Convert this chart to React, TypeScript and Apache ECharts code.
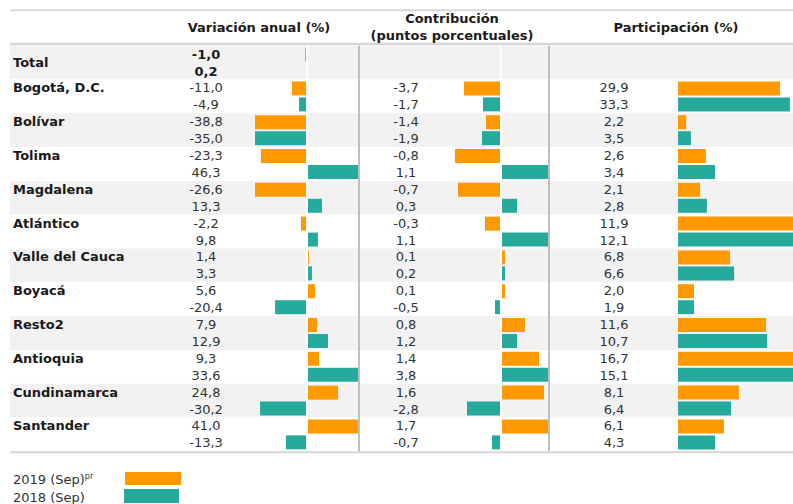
import React, { useEffect, useRef } from "react";
import * as echarts from "echarts";

// ---- Data ----
const regions = [
  "Total",
  "Bogotá, D.C.",
  "Bolívar",
  "Tolima",
  "Magdalena",
  "Atlántico",
  "Valle del Cauca",
  "Boyacá",
  "Resto2",
  "Antioquia",
  "Cundinamarca",
  "Santander",
];

// Printed values
const var2019 = [-1.0, -11.0, -38.8, -23.3, -26.6, -2.2, 1.4, 5.6, 7.9, 9.3, 24.8, 41.0];
const var2018 = [0.2, -4.9, -35.0, 46.3, 13.3, 9.8, 3.3, -20.4, 12.9, 33.6, -30.2, -13.3];
const contrib2019 = [null, -3.7, -1.4, -0.8, -0.7, -0.3, 0.1, 0.1, 0.8, 1.4, 1.6, 1.7];
const contrib2018 = [null, -1.7, -1.9, 1.1, 0.3, 1.1, 0.2, -0.5, 1.2, 3.8, -2.8, -0.7];
const part2019 = [null, 29.9, 2.2, 2.6, 2.1, 11.9, 6.8, 2.0, 11.6, 16.7, 8.1, 6.1];
const part2018 = [null, 33.3, 3.5, 3.4, 2.8, 12.1, 6.6, 1.9, 10.7, 15.1, 6.4, 4.3];

// Bar lengths as drawn in the reference (they do not follow the printed values)
const varBar2019 = [-1.3, -10, -34.7, -30.7, -34.7, -4, 1.3, 5.3, 6.7, 8, 20.7, 34];
const varBar2018 = [0, -5.3, -34.7, 34, 10, 7.3, 3.3, -21.3, 14, 34, -31.3, -14];
const contribBar2019 = [null, -3.7, -1.5, -4.6, -4.3, -1.6, 0.4, 0.4, 2.4, 3.8, 4.3, 4.7];
const contribBar2018 = [null, -1.8, -1.9, 4.7, 1.6, 4.7, 0.4, -0.6, 1.6, 4.7, -3.4, -0.9];
const partBar2019 = [null, 30.0, 2.4, 8.2, 6.5, 33.8, 15.3, 4.7, 25.9, 33.8, 17.9, 13.5];
const partBar2018 = [null, 32.9, 3.8, 10.9, 8.5, 33.8, 16.5, 4.7, 26.2, 33.8, 15.6, 10.9];

const seriesNames = ["2019 (Sep)", "2018 (Sep)"];
const headers = ["Variación anual (%)", "Contribución", "(puntos porcentuales)", "Participación (%)"];

const ORANGE = "#FF9900";
const TEAL = "#26AA9C";
const FONT = "DejaVu Sans";
const FS = 13;

const fmt = (v: number | null) => (v == null ? "" : v.toFixed(1).replace(".", ","));

const subRows = regions.flatMap((r, i) => [`${i}a`, `${i}b`]);
const subLabel = (a: (number | null)[], b: (number | null)[], idx: number) =>
  fmt(idx % 2 === 0 ? a[idx / 2] : b[(idx - 1) / 2]);

export default function App() {
  const ref = useRef<HTMLDivElement>(null);

  useEffect(() => {
    const chart = echarts.init(ref.current!, null, { renderer: "svg" });
    const TOP = 45.7;
    const H = 405.6;

    const hiddenCat = (gridIndex: number, data: string[], extra: any = {}) => ({
      type: "category",
      gridIndex,
      data,
      inverse: true,
      position: "left",
      axisLine: { show: false },
      axisTick: { show: false },
      axisLabel: { show: false },
      splitLine: { show: false },
      ...extra,
    });

    const valueLabelAxis = (gridIndex: number, margin: number, a: any[], b: any[]) =>
      hiddenCat(gridIndex, subRows, {
        axisLabel: {
          show: true,
          interval: 0,
          align: "center",
          margin,
          fontFamily: FONT,
          fontSize: FS,
          color: "#333333",
          formatter: (_v: string, idx: number) => {
            const t = subLabel(a, b, idx);
            return idx < 2 && t ? `{b|${t}}` : t;
          },
          rich: { b: { fontWeight: "bold", fontFamily: FONT, fontSize: FS, color: "#1a1a1a" } },
        },
      });

    const barSeries = (name: string, color: string, xi: number, yi: number, data: any[], zeroLine: boolean) => ({
      type: "bar",
      name,
      xAxisIndex: xi,
      yAxisIndex: yi,
      data,
      barWidth: 14,
      barGap: "14%",
      itemStyle: { color },
      clip: true,
      ...(zeroLine
        ? {
            markLine: {
              silent: true,
              symbol: ["none", "none"],
              label: { show: false },
              lineStyle: { color: "#FFFFFF", width: 2, type: "solid" },
              data: [{ xAxis: 0 }],
            },
          }
        : {}),
    });

    const hline = (y: number, w: number, color: string) => ({
      type: "line",
      shape: { x1: 10, y1: y, x2: 793, y2: y },
      style: { stroke: color, lineWidth: w },
      silent: true,
    });
    const vline = (x: number) => ({
      type: "line",
      shape: { x1: x, y1: TOP, x2: x, y2: TOP + H },
      style: { stroke: "#BFBFBF", lineWidth: 2 },
      silent: true,
      z: 10,
    });
    const headerText = (text: string, x: number, y: number) => ({
      type: "text",
      x,
      y,
      style: {
        text,
        fill: "#1a1a1a",
        font: `bold ${FS}px '${FONT}'`,
        textAlign: "center",
        textVerticalAlign: "middle",
        align: "center",
        verticalAlign: "middle",
      },
    });

    const option: any = {
      animation: false,
      backgroundColor: "#FFFFFF",
      grid: [
        { left: 10, right: 0, top: TOP, height: H },
        { left: 255, width: 103, top: TOP, height: H },
        { left: 455, width: 93, top: TOP, height: H },
        { left: 678, width: 115, top: TOP, height: H },
      ],
      xAxis: [
        { type: "value", gridIndex: 0, min: 0, max: 1, show: false },
        { type: "value", gridIndex: 1, min: -34.667, max: 34, show: false },
        { type: "value", gridIndex: 2, min: -4.6, max: 4.7, show: false },
        { type: "value", gridIndex: 3, min: 0, max: 33.8, show: false },
      ],
      yAxis: [
        hiddenCat(0, regions, {
          splitArea: { show: true, areaStyle: { color: ["#F2F2F2", "#FFFFFF"] } },
        }),
        hiddenCat(1, regions, {
          axisLabel: {
            show: true,
            interval: 0,
            align: "left",
            margin: 242,
            fontFamily: FONT,
            fontSize: FS,
            fontWeight: "bold",
            color: "#1a1a1a",
            formatter: (v: string, idx: number) => (idx === 0 ? v : ""),
          },
        }),
        hiddenCat(1, subRows, {
          axisLabel: {
            show: true,
            interval: 0,
            align: "left",
            margin: 242,
            fontFamily: FONT,
            fontSize: FS,
            fontWeight: "bold",
            color: "#1a1a1a",
            formatter: (_v: string, idx: number) =>
              idx % 2 === 0 && idx > 0 ? regions[idx / 2] : "",
          },
        }),
        valueLabelAxis(1, 49, var2019, var2018),
        hiddenCat(2, regions),
        valueLabelAxis(2, 49, contrib2019, contrib2018),
        hiddenCat(3, regions),
        valueLabelAxis(3, 64, part2019, part2018),
      ],
      series: [
        barSeries(seriesNames[0], ORANGE, 1, 1, varBar2019, true),
        barSeries(seriesNames[1], TEAL, 1, 1, varBar2018, true),
        barSeries(seriesNames[0], ORANGE, 2, 4, contribBar2019, true),
        barSeries(seriesNames[1], TEAL, 2, 4, contribBar2018, true),
        barSeries(seriesNames[0], ORANGE, 3, 6, partBar2019, false),
        barSeries(seriesNames[1], TEAL, 3, 6, partBar2018, false),
      ],
      graphic: [
        hline(10.3, 2, "#D9D9D9"),
        hline(44, 2.5, "#D6D6D6"),
        hline(452, 2.5, "#D6D6D6"),
        vline(359),
        vline(549),
        headerText(headers[0], 259, 27),
        headerText(headers[1], 452, 18),
        headerText(headers[2], 452, 35),
        headerText(headers[3], 676, 27),
        {
          type: "text",
          x: 13,
          y: 479,
          style: {
            text: `{a|${seriesNames[0]}}{s|pr}`,
            textVerticalAlign: "middle",
            verticalAlign: "middle",
            rich: {
              a: { fontFamily: FONT, fontSize: FS, fill: "#333333", color: "#333333" },
              s: { fontFamily: FONT, fontSize: 8, fill: "#333333", color: "#333333", verticalAlign: "top" },
            },
          },
        },
        {
          type: "text",
          x: 13,
          y: 497,
          style: {
            text: seriesNames[1],
            font: `${FS}px '${FONT}'`,
            fill: "#333333",
            textVerticalAlign: "middle",
            verticalAlign: "middle",
          },
        },
        { type: "rect", shape: { x: 125, y: 472, width: 56, height: 13 }, style: { fill: ORANGE } },
        { type: "rect", shape: { x: 124, y: 489, width: 55, height: 14 }, style: { fill: TEAL } },
      ],
    };

    chart.setOption(option);
    return () => chart.dispose();
  }, []);

  return (
    <div
      ref={ref}
      style={{ position: "absolute", left: 0, top: 0, width: 793, height: 504 }}
    />
  );
}
